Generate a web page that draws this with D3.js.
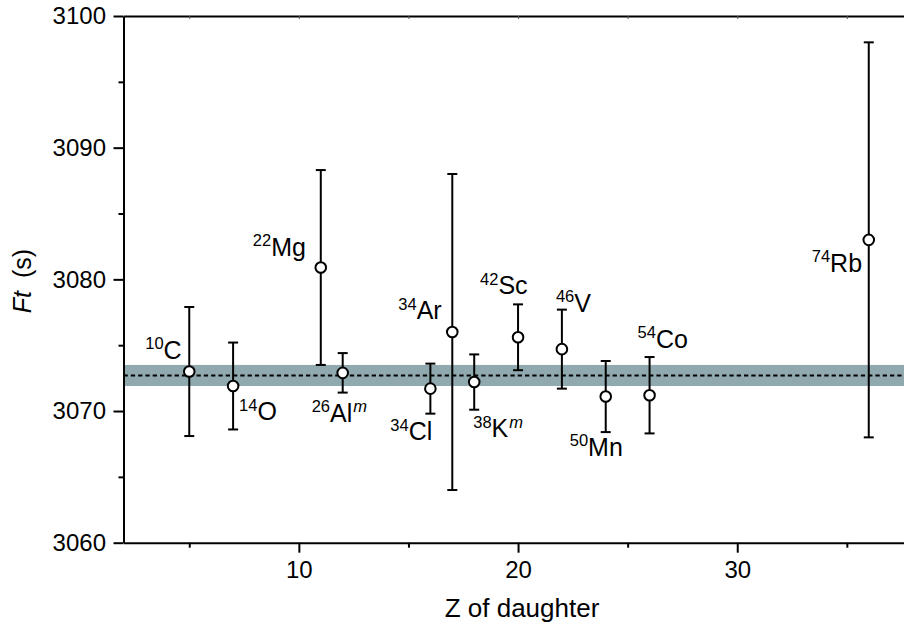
<!DOCTYPE html>
<html><head><meta charset="utf-8">
<script src="https://cdn.jsdelivr.net/npm/d3@7"></script>
<style>
body{margin:0;background:#fff;}
text{font-family:"Liberation Sans", Arial, sans-serif;fill:#000;}
</style></head><body>
<svg id="chart" width="904" height="630"></svg>
<script>
// ---- data ----
const massNumbers = ["10","14","22","26","34","34","38","42","46","50","54","74"];
const elements    = ["C","O","Mg","Al","Cl","Ar","K","Sc","V","Mn","Co","Rb"];
const isomeric    = [false,false,false,true,false,false,true,false,false,false,false,false];
const zDaughter   = [5,7,11,12,16,17,18,20,22,24,26,36];
const ftValues    = [3073.0,3071.9,3080.9,3072.9,3071.7,3076.0,3072.2,3075.6,3074.7,3071.1,3071.2,3083.0];
const ftErrors    = [4.9,3.3,7.4,1.5,1.9,12.0,2.1,2.5,3.0,2.7,2.9,15.0];
const averageFt   = 3072.7;
const averageBand = [3071.9, 3073.5];
const xMajorTicks = [10,20,30];
const xMinorTicks = [5,15,25,35];
const yMajorTicks = [3060,3070,3080,3090,3100];
const yMinorTicks = [3065,3075,3085,3095];
const xDomain = [2,38];
const yDomain = [3060,3100];
const xTitle = "Z of daughter";

// ---- layout (pixel offsets of each label from its point) ----
const labelOffsets = [[-44,-13],[6,34],[-68,-11.5],[-31,49],[-40,51.5],[-54,-13],[-1,55],[-38,-43],[-6,-37.5],[-36,59],[-12,-47.5],[-57,32]];

const svg = d3.select("#chart");
const x = d3.scaleLinear().domain(xDomain).range([123.5, 912.6]);
const y = d3.scaleLinear().domain(yDomain).range([542.7, 16]);
const FS = 24, LFS = 25, SFS = 16.5;

const points = zDaughter.map((z,i)=>({z, v:ftValues[i], e:ftErrors[i], a:massNumbers[i], el:elements[i], m:isomeric[i], off:labelOffsets[i]}));

// band
svg.append("rect")
  .attr("x", x(xDomain[0])).attr("width", x(xDomain[1]) - x(xDomain[0]))
  .attr("y", y(averageBand[1])).attr("height", y(averageBand[0]) - y(averageBand[1]))
  .attr("fill", "#8fa9ae");
svg.append("line")
  .attr("x1", x(xDomain[0])).attr("x2", x(xDomain[1]))
  .attr("y1", y(averageFt)).attr("y2", y(averageFt))
  .attr("stroke","#000").attr("stroke-width",2).attr("stroke-dasharray","4.3,3");

// error bars
const g = svg.append("g");
const eb = g.selectAll("g.eb").data(points).join("g").attr("class","eb");
eb.append("line").attr("x1",d=>x(d.z)).attr("x2",d=>x(d.z))
  .attr("y1",d=>y(d.v-d.e)).attr("y2",d=>y(d.v+d.e))
  .attr("stroke","#000").attr("stroke-width",2);
[1,-1].forEach(s=>{
  eb.append("line").attr("x1",d=>x(d.z)-5).attr("x2",d=>x(d.z)+5)
    .attr("y1",d=>y(d.v+s*d.e)).attr("y2",d=>y(d.v+s*d.e))
    .attr("stroke","#000").attr("stroke-width",2);
});
eb.append("circle").attr("cx",d=>x(d.z)).attr("cy",d=>y(d.v)).attr("r",5.3)
  .attr("fill","#fff").attr("stroke","#000").attr("stroke-width",2);

// labels
const lab = g.selectAll("text.lab").data(points).join("text").attr("class","lab")
  .attr("x",d=>x(d.z)+d.off[0]).attr("y",d=>y(d.v)+d.off[1]).attr("font-size",LFS);
lab.append("tspan").attr("font-size",SFS).attr("dy",-9.5).text(d=>d.a);
lab.append("tspan").attr("dy",9.5).text(d=>d.el);
lab.filter(d=>d.m).append("tspan").attr("font-size",SFS).attr("font-style","italic").attr("dy",-9.5).attr("dx",1).text("m");

// axes
function styleAxis(sel){
  sel.selectAll("path,line").attr("stroke","#000").attr("stroke-width",2);
  sel.selectAll("text").attr("font-size",FS).attr("font-family","Liberation Sans, Arial, sans-serif").attr("fill","#000");
}
const yAxis = svg.append("g").attr("transform",`translate(${x(xDomain[0])},0)`)
  .call(d3.axisLeft(y).tickValues(yMajorTicks).tickSize(10).tickSizeOuter(0).tickPadding(7.5).tickFormat(d3.format("d")));
styleAxis(yAxis);
const yMinor = svg.append("g").attr("transform",`translate(${x(xDomain[0])},0)`)
  .call(d3.axisLeft(y).tickValues(yMinorTicks).tickSize(5).tickSizeOuter(0).tickFormat(""));
styleAxis(yMinor); yMinor.select(".domain").remove();

const xAxis = svg.append("g").attr("transform",`translate(0,${y(yDomain[0])})`)
  .call(d3.axisBottom(x).tickValues(xMajorTicks).tickSize(10).tickSizeOuter(0).tickPadding(8).tickFormat(d3.format("d")));
styleAxis(xAxis);
const xMinor = svg.append("g").attr("transform",`translate(0,${y(yDomain[0])})`)
  .call(d3.axisBottom(x).tickValues(xMinorTicks).tickSize(5).tickSizeOuter(0).tickFormat(""));
styleAxis(xMinor); xMinor.select(".domain").remove();

// top frame with tiny inward ticks
const topAxis = svg.append("g").attr("transform",`translate(0,${y(yDomain[1])})`)
  .call(d3.axisTop(x).tickValues(xMajorTicks.concat(xMinorTicks)).tickSize(-3).tickSizeOuter(0).tickFormat(""));
topAxis.select(".domain").attr("stroke","#000").attr("stroke-width",2);
topAxis.selectAll("line").attr("stroke","#555").attr("stroke-width",1);

// titles
svg.append("text").attr("x",522).attr("y",617).attr("text-anchor","middle").attr("font-size",26).text(xTitle);
const yt = svg.append("text").attr("transform","translate(31,281) rotate(-90)").attr("text-anchor","middle").attr("font-size",25);
yt.append("tspan").attr("font-style","italic").text("Ft");
yt.append("tspan").attr("dx",6).text(" (s)");
</script>
</body></html>
